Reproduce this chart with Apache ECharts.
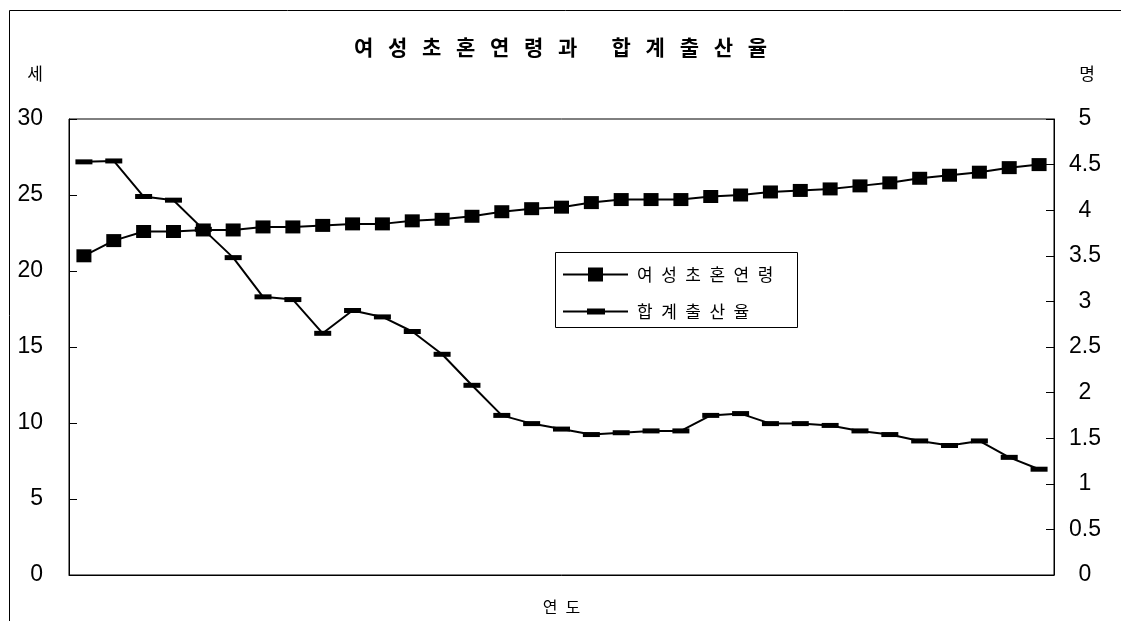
<!DOCTYPE html>
<html>
<head>
<meta charset="utf-8">
<script src="https://cdn.jsdelivr.net/npm/echarts@6/dist/echarts.min.js"></script>
<style>
  html, body { margin: 0; padding: 0; background: #fff; }
  #chart { width: 1121px; height: 621px; }
</style>
</head>
<body>
<div id="chart"></div>
<script>
// Years on the category axis (not labelled on the axis itself)
const years = [1970, 1971, 1972, 1973, 1974, 1975, 1976, 1977, 1978, 1979,
               1980, 1981, 1982, 1983, 1984, 1985, 1986, 1987, 1988, 1989,
               1990, 1991, 1992, 1993, 1994, 1995, 1996, 1997, 1998, 1999,
               2000, 2001, 2002];

// 여성 초혼연령 (세), left axis
const firstMarriageAge = [21.0, 22.0, 22.6, 22.6, 22.7, 22.7, 22.9, 22.9, 23.0, 23.1,
                          23.1, 23.3, 23.4, 23.6, 23.9, 24.1, 24.2, 24.5, 24.7, 24.7,
                          24.7, 24.9, 25.0, 25.2, 25.3, 25.4, 25.6, 25.8, 26.1, 26.3,
                          26.5, 26.8, 27.0];

// 합계출산율 (명), right axis
const fertilityRate = [4.53, 4.54, 4.15, 4.11, 3.79, 3.48, 3.05, 3.02, 2.65, 2.90,
                       2.83, 2.67, 2.42, 2.08, 1.75, 1.66, 1.60, 1.54, 1.56, 1.58,
                       1.58, 1.75, 1.77, 1.66, 1.66, 1.64, 1.58, 1.54, 1.47, 1.42,
                       1.47, 1.29, 1.16];

const seriesNames = ['여성초혼연령', '합계출산율'];
const chartTitle = '여성초혼연령과 합계출산율';
const leftUnit = '세';
const rightUnit = '명';
const xAxisName = '연도';

const KR = '"Noto Sans CJK KR", sans-serif';
const NUM = '"Liberation Sans", Arial, sans-serif';

// spread characters apart, the way the labels are set with letter spacing
const spaced = (s, sep) => s.split('').join(sep);

// legend icons: a line with the series marker drawn in the middle
const iconSquare = 'path://M0,6 L25,6 L25,0 L40,0 L40,6 L65,6 L65,8 L40,8 L40,14 L25,14 L25,8 L0,8 Z';
const iconBar = 'path://M0,2 L24,2 L24,0 L42,0 L42,2 L65,2 L65,4 L42,4 L42,6 L24,6 L24,4 L0,4 Z';

const chart = echarts.init(document.getElementById('chart'), null, { renderer: 'canvas' });

const legendText = {
  fontFamily: KR, fontSize: 17, color: '#000', padding: [0, 0, 0, 4]
};

chart.setOption({
  animation: false,
  backgroundColor: '#fff',
  title: {
    text: spaced(chartTitle, '\u2002\u2009'),
    left: 'center',
    top: 32,
    textStyle: { fontFamily: KR, fontSize: 21, fontWeight: 'bold', color: '#000' }
  },
  grid: {
    left: 69, right: 67, top: 119, bottom: 46,
    outerBoundsMode: 'none',
    containLabel: false,
    show: true, borderColor: '#000', borderWidth: 1, backgroundColor: 'transparent'
  },
  legend: [
    {
      left: 563, top: 266, padding: 0,
      itemWidth: 65, itemHeight: 14,
      itemStyle: { borderWidth: 0 },
      data: [{ name: seriesNames[0], icon: iconSquare }],
      formatter: n => spaced(n, '\u2002'),
      textStyle: legendText,
      selectedMode: false
    },
    {
      left: 563, top: 303, padding: 0,
      itemWidth: 65, itemHeight: 6,
      itemStyle: { borderWidth: 0 },
      data: [{ name: seriesNames[1], icon: iconBar }],
      formatter: n => spaced(n, '\u2002'),
      textStyle: legendText,
      selectedMode: false
    }
  ],
  xAxis: {
    type: 'category',
    data: years,
    boundaryGap: true,
    name: spaced(xAxisName, '\u2002'),
    nameLocation: 'middle',
    nameGap: 24,
    nameTextStyle: { fontFamily: KR, fontSize: 16, color: '#000' },
    axisLine: { lineStyle: { color: '#000', width: 1 } },
    axisTick: { show: false },
    axisLabel: { show: false },
    splitLine: { show: false }
  },
  yAxis: [
    {
      type: 'value', min: 0, max: 30, interval: 5, position: 'left',
      axisLine: { show: true, lineStyle: { color: '#000', width: 1 } },
      axisTick: { show: true, inside: true, length: 8, lineStyle: { color: '#000' } },
      axisLabel: { margin: 26, fontFamily: NUM, fontSize: 23, color: '#000' },
      splitLine: { show: false }
    },
    {
      type: 'value', min: 0, max: 5, interval: 0.5, position: 'right',
      axisLine: { show: true, lineStyle: { color: '#000', width: 1 } },
      axisTick: { show: true, inside: true, length: 8, lineStyle: { color: '#000' } },
      axisLabel: { margin: 31, align: 'center', fontFamily: NUM, fontSize: 23, color: '#000' },
      splitLine: { show: false }
    }
  ],
  series: [
    {
      name: seriesNames[0],
      type: 'line',
      yAxisIndex: 0,
      data: firstMarriageAge,
      z: 4,
      symbol: 'rect',
      symbolSize: [15, 13],
      showSymbol: true,
      showAllSymbol: true,
      itemStyle: { color: '#000', borderWidth: 0 },
      lineStyle: { color: '#000', width: 2 }
    },
    {
      name: seriesNames[1],
      type: 'line',
      yAxisIndex: 1,
      data: fertilityRate,
      z: 3,
      symbol: 'rect',
      symbolSize: [17, 5],
      showSymbol: true,
      showAllSymbol: true,
      itemStyle: { color: '#000', borderWidth: 0 },
      lineStyle: { color: '#000', width: 2 }
    }
  ],
  graphic: [
    // outer frame (left and top edges)
    {
      type: 'polyline', z: 0, silent: true,
      shape: { points: [[9.5, 621], [9.5, 10.5], [1121, 10.5]] },
      style: { stroke: '#000', lineWidth: 1, fill: null }
    },
    // legend box
    {
      type: 'rect', z: 1, silent: true,
      shape: { x: 555.5, y: 252.5, width: 242, height: 75 },
      style: { stroke: '#000', lineWidth: 1, fill: '#fff' }
    },
    // axis units
    {
      type: 'text', z: 5, silent: true,
      style: { text: leftUnit, x: 35, y: 74, align: 'center', verticalAlign: 'middle',
               font: '17px ' + KR, fill: '#000' }
    },
    {
      type: 'text', z: 5, silent: true,
      style: { text: rightUnit, x: 1087, y: 74, align: 'center', verticalAlign: 'middle',
               font: '17px ' + KR, fill: '#000' }
    }
  ]
});
</script>
</body>
</html>
